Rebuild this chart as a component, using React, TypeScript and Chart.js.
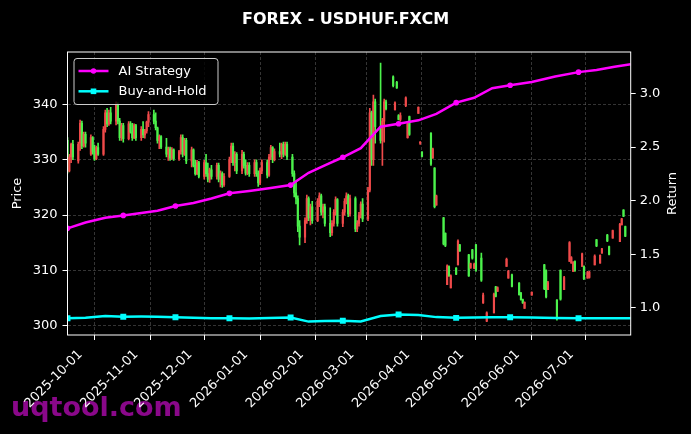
import React, { useEffect, useRef } from 'react';
import { Chart, registerables } from 'chart.js';

Chart.register(...registerables);

// Day offsets from 2025-09-16 for each daily candle
const candleDays = [
  0, 1, 2, 3,
  6, 7, 8, 9, 10, 13, 14, 15, 16, 17, 20, 21, 22, 23, 24, 27, 28, 29, 30, 31,
  34, 35, 36, 37, 38, 41, 42, 43, 44, 45, 48, 49, 50, 51, 52, 55, 56, 57, 58, 59,
  62, 63, 64, 65, 66, 69, 70, 71, 72, 73, 76, 77, 78, 79, 80, 83, 84, 85, 86, 87,
  90, 91, 92, 93, 94, 97, 98, 99, 100, 101, 104, 105, 106, 107, 108, 111, 112, 113, 114, 115,
  118, 119, 120, 121, 122, 125, 126, 127, 128, 129, 132, 133, 134, 135, 136, 139, 140, 141, 142, 143,
  146, 147, 148, 149, 150, 153, 154, 155, 156, 157, 160, 161, 162, 163, 164, 167, 168, 169, 170, 171,
  174, 175, 176, 177, 181, 182, 183, 184, 185, 188, 189, 190, 195, 196, 197, 202, 203, 204, 205,
  209, 210, 211, 212, 213, 216, 217, 218, 223, 224, 225, 226, 227, 230, 231, 233, 237, 238, 239,
  244, 245, 247, 251, 252, 253, 254, 258, 265, 266, 267, 272, 274, 276, 279, 280, 281, 282,
  286, 287, 289, 290, 293, 294, 296, 297, 300, 301, 303, 307, 308, 309, 310,
];

const opens = [
  333.5, 328, 330.5, 332.8,
  329.8, 333, 336.6, 332.5, 334.6, 331, 334, 331.5, 330.2, 332.2, 331, 335.5, 338.5, 336.5, 338.5, 337, 340, 337, 334, 336.2,
  333.8, 336.5, 335, 334, 336.2, 334, 335.5, 334.5, 335.2, 336.8, 338.2, 337, 335.8, 333.5, 334.2, 332.3, 331, 332, 330.3, 331.8,
  330.2, 331.5, 334, 331, 333.5, 329.8, 331.8, 329, 327.5, 329.5, 327, 329.5, 327.5, 326.5, 328.2, 327, 329, 326.5, 327.5, 325.5,
  327, 330, 332.5, 329.5, 331, 328, 331, 329, 327.6, 329, 327.5, 329.5, 327.5, 325.8, 328, 329.5, 327.2, 330.5, 332.2, 330,
  331.5, 331, 332.8, 331, 332.8, 330.5, 327.5, 324, 323, 318, 316, 319, 323, 319.5, 321.5, 319, 322.5, 323.5, 320.5, 321.5,
  318.5, 316.8, 318.5, 320.5, 322.8, 318.5, 320.5, 322.5, 323.5, 320.2, 323, 317.5, 318.5, 320, 322, 319.3, 324.5, 338.5, 330, 340.5,
  336, 333.5, 337, 340.5, 345, 339, 344, 338, 337.3, 339.8, 334, 337.8, 338.4, 333, 331.4, 334.8, 330.3, 328.5, 321.8,
  319.5, 316.7, 307.4, 310.7, 306.8, 310.4, 311, 314.6, 312.8, 310.4, 313.7, 310.4, 314.6, 312.2, 304.1, 300.8, 302.3, 307, 306.2,
  310.7, 308.6, 309.2, 307.7, 305.9, 304.7, 303.1, 305.5, 311, 310, 306.5, 304.6, 310, 306.5, 311.6, 311.3, 309.8, 311.6,
  310.7, 310.7, 308.6, 308.7, 311, 315.5, 311.3, 313.1, 316.4, 314.3, 315.8, 315.2, 318.2, 320.9, 317.9,
];

const highs = [
  334, 331, 333, 333.5,
  333.2, 337.2, 337, 335, 335, 334.5, 334.2, 332.6, 332.5, 333, 336, 339, 339.3, 339, 339.5, 340.5, 340.3, 337.5, 336.6, 336.6,
  336.9, 336.9, 336.6, 336.5, 336.4, 336, 336.9, 335.5, 337, 338.7, 339, 338.5, 335.9, 334.5, 334.4, 333.9, 332.3, 332.3, 332.2, 332,
  331.7, 334.5, 334.5, 333.9, 333.9, 332.3, 332, 329.9, 329.9, 329.7, 329.9, 331, 329.4, 328.5, 329, 329.4, 329.4, 328, 327.8, 327.5,
  330.5, 333, 333, 331.5, 331.3, 331.7, 331.4, 330, 329.5, 329.5, 330, 330, 328, 328.5, 330, 330, 331, 332.6, 332.4, 332,
  333, 333, 333.2, 333.2, 333.2, 331, 328, 326, 323.5, 319, 319.5, 323.6, 323.3, 322, 322.5, 323, 324, 323.8, 322, 322,
  321.3, 319, 321, 323.3, 323, 321, 323, 324, 323.8, 323.6, 323.3, 319, 320.5, 322.4, 323, 325, 339.3, 338.8, 341.7, 341,
  347.5, 337.5, 341, 340.8, 345.2, 340.5, 344.2, 338.2, 338.5, 341.4, 336.8, 337.9, 339.6, 333.3, 331.5, 334.9, 332.1, 328.6, 323.6,
  319.6, 316.8, 311, 310.8, 309.2, 310.5, 315.5, 314.7, 312.9, 311.3, 313.8, 311.3, 314.7, 313.1, 305.9, 302.5, 305.9, 307.1, 307,
  312.2, 310, 309.3, 307.8, 306, 304.8, 304.3, 306.1, 311.1, 310.1, 308, 304.7, 310.1, 308.9, 315.2, 312.5, 311.6, 311.7,
  313.1, 310.8, 309.8, 309.8, 312.8, 315.6, 312.8, 314, 316.5, 314.4, 317.3, 318.5, 319.4, 321, 318,
];

const lows = [
  327.6, 327.8, 329.5, 330,
  329.4, 331.7, 332, 332.3, 332.3, 330.8, 331, 329.9, 330, 330.8, 330.8, 335, 336, 336.2, 336.5, 336.3, 336.5, 333.5, 333.5, 333.2,
  333.6, 334.8, 333.5, 333.8, 333.5, 333.5, 334, 333.9, 334.8, 336, 336.5, 335.4, 333, 332, 332, 330.5, 329.9, 329.9, 330, 329.9,
  329.9, 331, 330.5, 330.8, 329.3, 328.7, 328.7, 327.2, 327.3, 326.7, 326.5, 327, 326, 325.9, 326.5, 326.5, 326, 325.1, 325, 325.2,
  326.8, 329.5, 329, 328, 327.5, 327.5, 328.5, 327.2, 327.3, 327, 327, 327, 325.2, 325.5, 327.5, 326.7, 327, 330, 329.5, 329.8,
  330.5, 330.2, 330.5, 330.8, 330, 327, 323.3, 322, 317, 314.6, 315, 318.5, 319, 318.2, 318.5, 318.8, 321.5, 320, 319.5, 318,
  316.1, 316.3, 318, 320, 318, 317.9, 320, 322, 319.7, 319.8, 317, 317, 318, 319.5, 318.8, 319, 324.2, 329, 329, 333,
  333, 329, 333.2, 339, 343.2, 339, 342.9, 337.2, 337, 339.6, 333.9, 334.4, 338.4, 332.8, 330.5, 329, 330.3, 321.3, 321.8,
  314.6, 314.3, 307.4, 308.9, 306.8, 309.2, 311, 313.4, 308.9, 310.4, 312, 310.3, 309.8, 308, 304, 300.7, 302.3, 305.2, 306.2,
  310.7, 308.6, 307, 305.5, 304.6, 304, 303.1, 305.5, 306.5, 305, 306.5, 301, 304.6, 306.5, 311.6, 311.3, 309.8, 309.8,
  310.7, 308.3, 308.6, 308.6, 311, 314.3, 311.3, 313.1, 315.2, 312.8, 315.8, 315.2, 318.2, 319.7, 316.1,
];

const closes = [
  328, 330.5, 332.8, 330.5,
  332.8, 336.6, 332.5, 334.6, 333, 334, 331.5, 330.2, 332.2, 331, 335.5, 338.5, 336.5, 338.5, 337, 340, 337, 334, 336.2, 333.8,
  336.5, 335, 334, 336.2, 334, 335.5, 334.5, 335.2, 336.8, 338.2, 337, 335.8, 333.5, 334.2, 332.3, 331, 332, 330.3, 331.8, 330.2,
  331.5, 334, 331, 333.5, 329.8, 331.8, 329, 327.5, 329.5, 327, 329.5, 327.5, 326.5, 328.2, 327, 329, 326.5, 327.5, 325.5, 327,
  330, 332.5, 329.5, 331, 328, 331, 329, 327.6, 329, 327.5, 329.5, 327.5, 325.8, 328, 329.5, 327.2, 330.5, 332.2, 330, 331.5,
  331, 332.8, 331, 332.8, 330.5, 327.5, 324, 323, 318, 316, 319, 323, 319.5, 321.5, 319, 322.5, 323.5, 320.5, 321.5, 318.5,
  316.8, 318.5, 320.5, 322.8, 318.5, 320.5, 322.5, 323.5, 320.2, 323, 317.5, 318.5, 320, 322, 319.3, 324.5, 338.5, 330, 340.5, 336,
  333.5, 337, 340.5, 339.2, 343.4, 340.3, 343, 337.3, 338, 341.2, 336.5, 334.6, 339.5, 333.2, 330.6, 329.2, 332, 321.5, 323.5,
  314.8, 314.5, 310.8, 309, 309, 309.3, 315.3, 313.5, 309, 311.2, 312.2, 311.1, 310, 308.2, 305.5, 302.3, 305.7, 305.3, 306.9,
  312, 309.8, 307.1, 305.6, 304.7, 304.1, 304.2, 306, 306.7, 305.2, 307.8, 301.2, 304.8, 308.7, 315, 312.3, 311.4, 310,
  313, 308.5, 309.6, 309.7, 312.6, 314.4, 312.7, 313.9, 315.3, 312.9, 317.2, 318.3, 319.3, 319.8, 316.2,
];

// Strategy return curves (right axis), sampled by day offset
const returnDays = [0, 10, 21, 31, 41, 50, 60, 70, 80, 90, 101, 112, 124, 134, 143, 153, 163, 174, 184, 195, 205, 216, 226, 236, 246, 258, 271, 284, 294, 304, 313];
const aiReturn = [1.741, 1.795, 1.84, 1.862, 1.885, 1.905, 1.95, 1.978, 2.02, 2.068, 2.09, 2.115, 2.145, 2.26, 2.33, 2.405, 2.49, 2.69, 2.718, 2.75, 2.81, 2.915, 2.96, 3.05, 3.077, 3.107, 3.16, 3.2, 3.22, 3.25, 3.273];
const bhReturn = [0.901, 0.906, 0.922, 0.915, 0.917, 0.916, 0.91, 0.905, 0.902, 0.901, 0.899, 0.903, 0.908, 0.87, 0.875, 0.878, 0.872, 0.922, 0.937, 0.932, 0.912, 0.905, 0.909, 0.91, 0.911, 0.909, 0.903, 0.901, 0.901, 0.901, 0.901];

const monthTickDays = [15, 46, 76, 107, 138, 166, 197, 227, 258, 288];
const monthTickLabels = ['2025-10-01', '2025-11-01', '2025-12-01', '2026-01-01', '2026-02-01', '2026-03-01', '2026-04-01', '2026-05-01', '2026-06-01', '2026-07-01'];
const priceTicks = [300, 310, 320, 330, 340];
const returnTicks = [1.0, 1.5, 2.0, 2.5, 3.0];

const TITLE = 'FOREX - USDHUF.FXCM';
const WATERMARK = 'uqtool.com';
const RIGHT_TITLE = 'Return';
const UP = '#f04a4a';
const DOWN = '#4cf24c';
const GRID = 'rgba(120,120,120,0.55)';
const FONT = '"DejaVu Sans", sans-serif';

const markerRadius = (r: number, n: number) => (ctx: any) =>
  ctx.dataIndex % 3 === 0 && ctx.dataIndex < n - 1 ? r : 0;

export default function App() {
  const ref = useRef<HTMLCanvasElement>(null);

  useEffect(() => {
    document.body.style.margin = '0';
    document.body.style.background = '#000';
    const canvas = ref.current;
    if (!canvas) return;

    const candleColors = closes.map((c, i) => (c >= opens[i] ? UP : DOWN));

    const bgPlugin = {
      id: 'bgAndMark',
      beforeDraw(chart: any) {
        const { ctx, width, height } = chart;
        ctx.save();
        ctx.fillStyle = '#000';
        ctx.fillRect(0, 0, width, height);
        ctx.font = `bold 27px ${FONT}`;
        ctx.fillStyle = '#8a088a';
        ctx.textAlign = 'left';
        ctx.textBaseline = 'alphabetic';
        ctx.fillText(WATERMARK, 11, 416);
        ctx.restore();
      },
    };

    const overlayPlugin = {
      id: 'overlay',
      afterDraw(chart: any) {
        const { ctx, chartArea } = chart;
        const { left, top, right, bottom } = chartArea;
        ctx.save();
        // frame
        ctx.strokeStyle = '#ffffff';
        ctx.lineWidth = 1;
        ctx.strokeRect(left, top, right - left, bottom - top);
        // title
        ctx.font = `bold 16px ${FONT}`;
        ctx.fillStyle = '#ffffff';
        ctx.textAlign = 'center';
        ctx.textBaseline = 'alphabetic';
        ctx.fillText(TITLE, chart.width / 2, 24);
        // right axis title, reading upward
        ctx.save();
        ctx.translate(673, (top + bottom) / 2);
        ctx.rotate(-Math.PI / 2);
        ctx.font = `13px ${FONT}`;
        ctx.textAlign = 'center';
        ctx.textBaseline = 'middle';
        ctx.fillText(RIGHT_TITLE, 0, 0);
        ctx.restore();
        // legend
        const lx = left + 6.5;
        const ly = top + 6.5;
        const lw = 144;
        const lh = 46;
        ctx.beginPath();
        if (ctx.roundRect) ctx.roundRect(lx, ly, lw, lh, 3);
        else ctx.rect(lx, ly, lw, lh);
        ctx.fillStyle = 'rgba(0,0,0,0.8)';
        ctx.fill();
        ctx.strokeStyle = '#cccccc';
        ctx.lineWidth = 1;
        ctx.stroke();
        const lineSets = chart.data.datasets.filter((d: any) => d.type === 'line');
        lineSets.forEach((ds: any, i: number) => {
          const cy = ly + 12.5 + i * 20.3;
          ctx.strokeStyle = ds.borderColor;
          ctx.lineWidth = 2.5;
          ctx.beginPath();
          ctx.moveTo(lx + 4.5, cy);
          ctx.lineTo(lx + 34.5, cy);
          ctx.stroke();
          ctx.fillStyle = ds.borderColor;
          const mx = lx + 19.5;
          if (ds.pointStyle === 'rect') {
            ctx.fillRect(mx - 2.8, cy - 2.8, 5.6, 5.6);
          } else {
            ctx.beginPath();
            ctx.arc(mx, cy, 2.7, 0, Math.PI * 2);
            ctx.fill();
          }
          ctx.font = `13px ${FONT}`;
          ctx.fillStyle = '#ffffff';
          ctx.textAlign = 'left';
          ctx.textBaseline = 'middle';
          ctx.fillText(ds.label, lx + 44.5, cy + 0.5);
        });
        ctx.restore();
      },
    };

    const chart = new Chart(canvas, {
      type: 'bar',
      data: {
        datasets: [
          {
            type: 'line',
            label: 'AI Strategy',
            data: returnDays.map((d, i) => ({ x: d, y: aiReturn[i] })),
            yAxisID: 'yRet',
            xAxisID: 'x',
            borderColor: '#ff00ff',
            backgroundColor: '#ff00ff',
            borderWidth: 2.5,
            pointStyle: 'circle',
            pointRadius: markerRadius(2.8, aiReturn.length),
            pointBorderWidth: 0,
            tension: 0,
            order: 0,
          } as any,
          {
            type: 'line',
            label: 'Buy-and-Hold',
            data: returnDays.map((d, i) => ({ x: d, y: bhReturn[i] })),
            yAxisID: 'yRet',
            xAxisID: 'x',
            borderColor: '#00ffff',
            backgroundColor: '#00ffff',
            borderWidth: 2.5,
            pointStyle: 'rect',
            pointRadius: markerRadius(4.2, bhReturn.length),
            pointBorderWidth: 0,
            tension: 0,
            order: 0,
          } as any,
          {
            type: 'bar',
            label: 'wick',
            data: candleDays.map((d, i) => ({ x: d, y: [lows[i], highs[i]] })),
            yAxisID: 'yPrice',
            xAxisID: 'x',
            backgroundColor: candleColors,
            borderWidth: 0,
            barThickness: 1,
            grouped: false,
            order: 2,
          } as any,
          {
            type: 'bar',
            label: 'body',
            data: candleDays.map((d, i) => ({ x: d, y: [opens[i], closes[i]] })),
            yAxisID: 'yPrice',
            xAxisID: 'x',
            backgroundColor: candleColors,
            borderWidth: 0,
            barThickness: 1.5,
            grouped: false,
            order: 1,
          } as any,
        ],
      },
      options: {
        animation: false,
        responsive: false,
        maintainAspectRatio: false,
        layout: { padding: { top: 52, left: 0, right: 0, bottom: 0 } },
        font: { family: FONT },
        plugins: {
          legend: { display: false },
          tooltip: { enabled: false },
          title: { display: false },
        },
        scales: {
          x: {
            type: 'linear',
            position: 'bottom',
            min: 0,
            max: 313,
            offset: false,
            grid: {
              color: GRID,
              lineWidth: 0.8,
              drawTicks: true,
              tickLength: 5,
              tickColor: '#ffffff',
              tickWidth: 1,
              offset: false,
            },
            border: { display: false, dash: [3, 2] },
            ticks: {
              color: '#ffffff',
              font: { size: 13, family: FONT },
              autoSkip: false,
              minRotation: 45,
              maxRotation: 45,
              padding: 7,
              labelOffset: -14,
              callback: (_v: any, i: number) => monthTickLabels[i],
            },
            afterBuildTicks: (axis: any) => {
              axis.ticks = monthTickDays.map((v) => ({ value: v }));
            },
            afterFit: (axis: any) => {
              axis.height = 99;
            },
          } as any,
          yPrice: {
            type: 'linear',
            position: 'left',
            min: 298.3,
            max: 349.5,
            grid: {
              color: GRID,
              lineWidth: 0.8,
              drawTicks: true,
              tickLength: 5,
              tickColor: '#ffffff',
              tickWidth: 1,
            },
            border: { display: false, dash: [3, 2] },
            ticks: {
              color: '#ffffff',
              font: { size: 13, family: FONT },
              padding: 5,
              callback: (v: any) => String(v),
            },
            title: {
              display: true,
              text: 'Price',
              color: '#ffffff',
              font: { size: 13, family: FONT },
              padding: { top: 10, bottom: 0 },
            },
            afterBuildTicks: (axis: any) => {
              axis.ticks = priceTicks.map((v) => ({ value: v }));
            },
            afterFit: (axis: any) => {
              axis.width = 67.5;
            },
          } as any,
          yRet: {
            type: 'linear',
            position: 'right',
            min: 0.745,
            max: 3.388,
            grid: {
              drawOnChartArea: false,
              drawTicks: true,
              tickLength: 5,
              tickColor: '#ffffff',
              tickWidth: 1,
            },
            border: { display: false },
            ticks: {
              color: '#ffffff',
              font: { size: 13, family: FONT },
              padding: 4,
              callback: (v: any) => Number(v).toFixed(1),
            },
            title: { display: false },
            afterBuildTicks: (axis: any) => {
              axis.ticks = returnTicks.map((v) => ({ value: v }));
            },
            afterFit: (axis: any) => {
              axis.width = 60.3;
            },
          } as any,
        },
      },
      plugins: [bgPlugin, overlayPlugin],
    });

    return () => chart.destroy();
  }, []);

  return <canvas ref={ref} width={691} height={434} style={{ display: 'block' }} />;
}
